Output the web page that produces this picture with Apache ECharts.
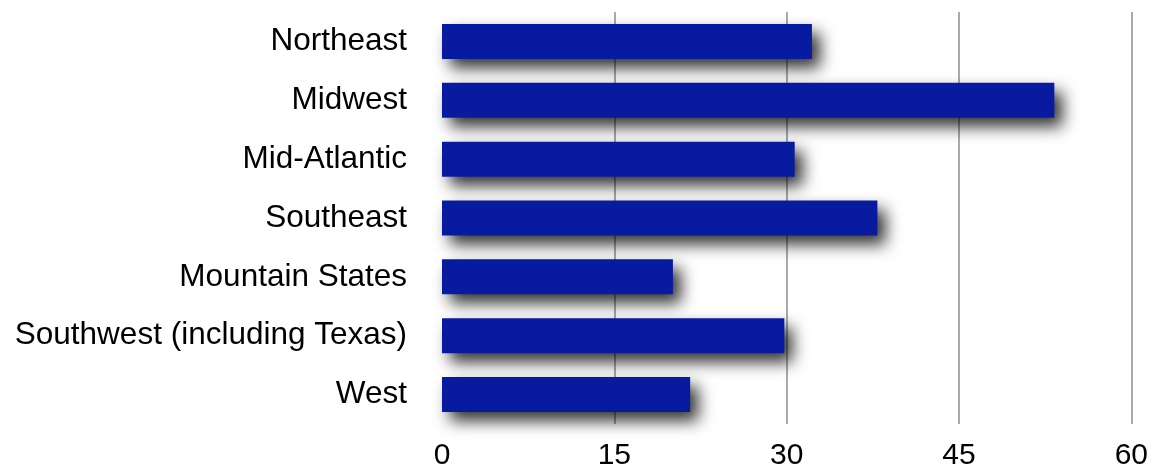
<!DOCTYPE html>
<html>
<head>
<meta charset="utf-8">
<script src="https://cdn.jsdelivr.net/npm/echarts@6/dist/echarts.min.js"></script>
<style>
  html, body { margin: 0; padding: 0; background: #fff; }
  #chart { width: 1151px; height: 471px; }
</style>
</head>
<body>
<div id="chart"></div>
<script>
// regions, top to bottom
const regions = ['Northeast', 'Midwest', 'Mid-Atlantic', 'Southeast', 'Mountain States', 'Southwest (including Texas)', 'West'];
const values = [32.2, 53.3, 30.7, 37.9, 20.1, 29.8, 21.6];
const xTicks = [0, 15, 30, 45, 60];

const font = 'Liberation Sans, Arial, Helvetica, sans-serif';
const chart = echarts.init(document.getElementById('chart'));

chart.setOption({
  animation: false,
  grid: { left: 442, right: 19, top: 12, bottom: 46, containLabel: false },
  xAxis: {
    type: 'value',
    min: xTicks[0],
    max: xTicks[xTicks.length - 1],
    interval: 15,
    axisLine: { show: false },
    axisTick: { show: false },
    axisLabel: { fontSize: 30, color: '#000', fontFamily: font, margin: 17 },
    splitLine: { show: true, showMinLine: false, lineStyle: { color: '#aaaaaa', width: 2 } }
  },
  yAxis: {
    type: 'category',
    data: regions,
    inverse: true,
    axisLine: { show: false },
    axisTick: { show: false },
    axisLabel: { fontSize: 31.5, color: '#000', fontFamily: font, margin: 35 }
  },
  series: [{
    type: 'bar',
    data: values,
    barWidth: 35,
    itemStyle: {
      color: '#081ba0',
      shadowColor: 'rgba(0,0,0,0.8)',
      shadowBlur: 16,
      shadowOffsetX: 8,
      shadowOffsetY: 9
    }
  }]
});
</script>
</body>
</html>
